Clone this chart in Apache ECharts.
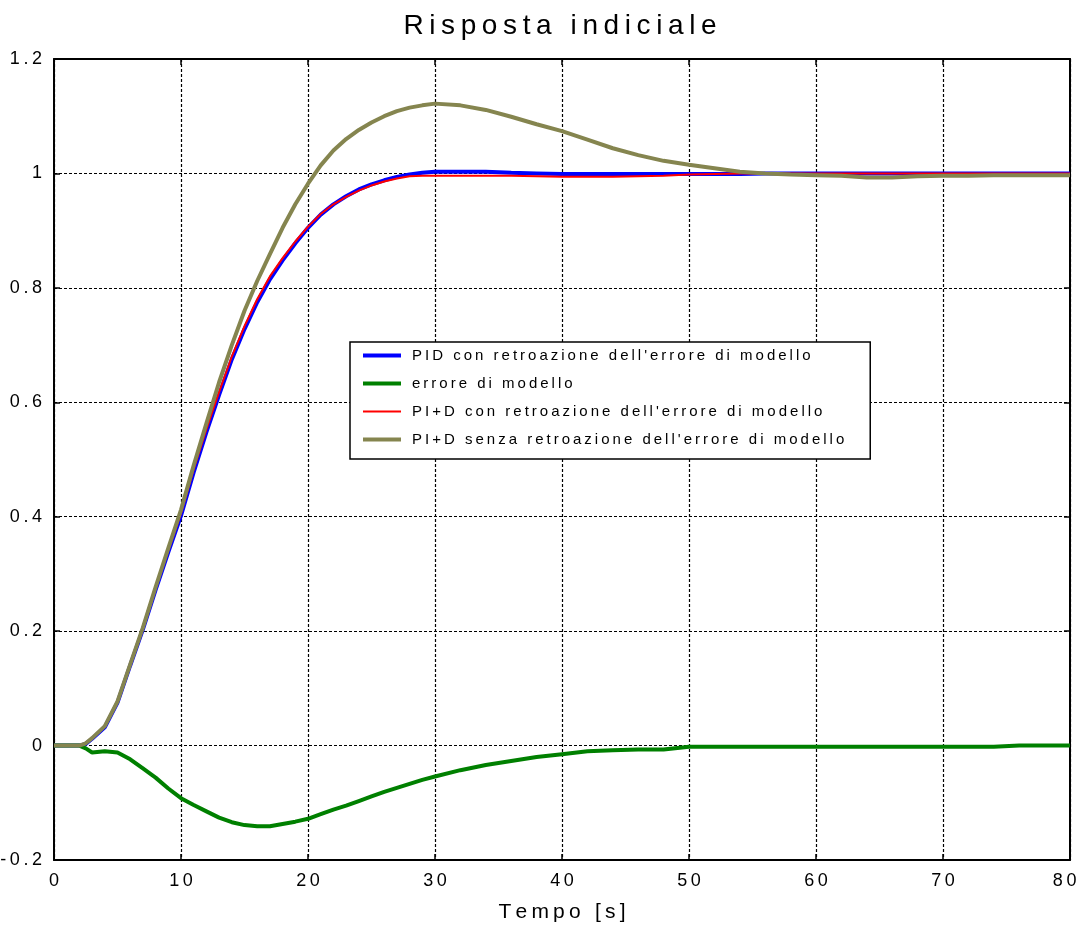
<!DOCTYPE html>
<html>
<head>
<meta charset="utf-8">
<script src="https://cdn.jsdelivr.net/npm/echarts@6/dist/echarts.min.js"></script>
<style>
  html, body { margin: 0; padding: 0; background: #fff; }
  #main { width: 1077px; height: 929px; }
</style>
</head>
<body>
<div id="main"></div>
<script>
// tempo [s]
var tempo = [0, 2, 2.5, 3, 4, 5, 6, 7, 8, 9, 10, 11, 12, 13, 14, 15, 16, 17, 18, 19, 20,
  21, 22, 23, 24, 25, 26, 27, 28, 29, 30, 32, 34, 36, 38, 40, 42, 44, 46, 48, 50,
  52, 54, 56, 58, 60, 62, 64, 66, 68, 70, 72, 74, 76, 78, 80]

var pidConRetro = [0, 0, 0.003, 0.012, 0.032, 0.075, 0.14, 0.203, 0.272, 0.338, 0.402, 0.478, 0.548, 0.613, 0.675, 0.728, 0.775, 0.815, 0.848, 0.878, 0.905,
  0.928, 0.946, 0.96, 0.972, 0.981, 0.988, 0.994, 0.998, 1.001, 1.003, 1.003, 1.003, 1.001, 1.0, 0.999, 0.999, 0.999, 0.999, 0.999, 0.999,
  0.999, 0.999, 1.0, 1.0, 1.0, 1.0, 1.0, 1.0, 1.0, 1.0, 1.0, 1.0, 1.0, 1.0, 1.0]

var erroreModello = [0, 0, -0.005, -0.012, -0.01, -0.012, -0.024, -0.04, -0.056, -0.075, -0.092, -0.104, -0.115, -0.126, -0.134, -0.139, -0.141, -0.141, -0.137, -0.133, -0.128,
  -0.12, -0.112, -0.105, -0.097, -0.089, -0.081, -0.074, -0.067, -0.06, -0.054, -0.043, -0.034, -0.027, -0.02, -0.015, -0.01, -0.008, -0.007, -0.007, -0.002,
  -0.002, -0.002, -0.002, -0.002, -0.002, -0.002, -0.002, -0.002, -0.002, -0.002, -0.002, -0.002, 0, 0, 0]

var piDConRetro = [0, 0, 0.003, 0.013, 0.034, 0.077, 0.142, 0.205, 0.275, 0.341, 0.406, 0.483, 0.553, 0.618, 0.68, 0.733, 0.78, 0.82, 0.852, 0.881, 0.907,
  0.929, 0.946, 0.959, 0.97, 0.979, 0.986, 0.991, 0.995, 0.996, 0.996, 0.996, 0.996, 0.996, 0.995, 0.994, 0.994, 0.994, 0.995, 0.996, 0.998,
  0.999, 1.0, 1.0, 1.0, 1.0, 1.0, 1.0, 1.0, 1.0, 1.0, 1.0, 1.0, 1.0, 1.0, 1.0]

var piDSenzaRetro = [0, 0, 0.004, 0.013, 0.034, 0.077, 0.142, 0.206, 0.277, 0.345, 0.412, 0.49, 0.563, 0.635, 0.7, 0.76, 0.812, 0.859, 0.905, 0.946, 0.982,
  1.014, 1.04, 1.06, 1.076, 1.089, 1.1, 1.109, 1.115, 1.119, 1.122, 1.119, 1.111, 1.099, 1.086, 1.074, 1.059, 1.044, 1.032, 1.022, 1.015,
  1.009, 1.003, 1.0, 0.998, 0.997, 0.996, 0.993, 0.993, 0.995, 0.996, 0.996, 0.997, 0.997, 0.997, 0.997]

var nomiSerie = [
  "PID con retroazione dell'errore di modello",
  'errore di modello',
  "PI+D con retroazione dell'errore di modello",
  "PI+D senza retroazione dell'errore di modello"
]
var colori = ['#0000ff', '#008000', '#ff0000', '#85854f']
var spessori = [4, 4, 2, 4]
var valori = [pidConRetro, erroreModello, piDConRetro, piDSenzaRetro]

var FONT = "'Liberation Sans', Arial, sans-serif"

// testo spaziato come nel grafico originale (spazio sottile tra le lettere)
function spaziato(s) {
  return s.split('').join('\u2009')
}
function coppie(vals) {
  return tempo.map(function (t, i) { return [t, vals[i]] })
}

var chart = echarts.init(document.getElementById('main'), null, { renderer: 'canvas' })

var series = nomiSerie.map(function (nome, i) {
  return {
    name: nome,
    type: 'line',
    symbol: 'none',
    data: coppie(valori[i]),
    lineStyle: { color: colori[i], width: spessori[i] },
    itemStyle: { color: colori[i] },
    z: 3 + i
  }
})

var vociLegenda = nomiSerie.map(function (nome, i) {
  return { name: nome, lineStyle: { color: colori[i], width: spessori[i] } }
})

var griglia = { show: true, lineStyle: { color: '#000', type: [3, 2], width: 1.2 } }

chart.setOption({
  backgroundColor: '#fff',
  animation: false,
  title: {
    text: spaziato('Risposta indiciale'),
    left: 555,
    top: 7,
    textAlign: 'center',
    textStyle: { fontFamily: FONT, fontSize: 28, fontWeight: 'normal', color: '#000' }
  },
  legend: {
    orient: 'vertical',
    left: 350,
    top: 342,
    backgroundColor: '#fff',
    borderColor: '#000',
    borderWidth: 1.5,
    borderRadius: 0,
    padding: [6, 26, 12, 11],
    itemWidth: 38,
    itemHeight: 14,
    itemGap: 13,
    itemStyle: { opacity: 0 },
    data: vociLegenda,
    formatter: function (name) { return '\u2009\u2009' + spaziato(name) },
    textStyle: { fontFamily: FONT, fontSize: 15, color: '#000' },
    z: 10
  },
  grid: { left: 54, right: 7, top: 59, bottom: 69, containLabel: false, outerBoundsMode: 'none' },
  xAxis: [{
    type: 'value',
    min: 0,
    max: 80,
    interval: 10,
    name: spaziato('Tempo [s]'),
    nameLocation: 'middle',
    nameGap: 42,
    nameTextStyle: { fontFamily: FONT, fontSize: 21, color: '#000' },
    axisLine: { show: true, onZero: false, lineStyle: { color: '#000', width: 2 } },
    axisTick: { show: true, inside: true, length: 6, lineStyle: { color: '#000', width: 1.5 } },
    axisLabel: {
      fontFamily: FONT, fontSize: 18, color: '#000', margin: 12,
      // l'ultima etichetta sta sul bordo: spazi in coda per non tagliarla
      formatter: function (v) {
        return v === 80 ? spaziato(String(v)) + '\u2009\u2009\u2009' : spaziato(String(v))
      }
    },
    splitLine: griglia
  }, {
    type: 'value',
    position: 'top',
    min: 0,
    max: 80,
    interval: 10,
    axisLine: { show: true, onZero: false, lineStyle: { color: '#000', width: 2 } },
    axisTick: { show: true, inside: true, length: 6, lineStyle: { color: '#000', width: 1.5 } },
    axisLabel: { show: false },
    splitLine: { show: false }
  }],
  yAxis: [{
    type: 'value',
    min: -0.2,
    max: 1.2,
    interval: 0.2,
    axisLine: { show: true, onZero: false, lineStyle: { color: '#000', width: 2 } },
    axisTick: { show: true, inside: true, length: 6, lineStyle: { color: '#000', width: 1.5 } },
    axisLabel: {
      fontFamily: FONT, fontSize: 18, color: '#000', margin: 12,
      formatter: function (v) { return spaziato(String(Math.round(v * 10) / 10)) }
    },
    splitLine: griglia
  }, {
    type: 'value',
    position: 'right',
    min: -0.2,
    max: 1.2,
    interval: 0.2,
    axisLine: { show: true, onZero: false, lineStyle: { color: '#000', width: 2 } },
    axisTick: { show: true, inside: true, length: 6, lineStyle: { color: '#000', width: 1.5 } },
    axisLabel: { show: false },
    splitLine: { show: false }
  }],
  series: series
})
</script>
</body>
</html>
